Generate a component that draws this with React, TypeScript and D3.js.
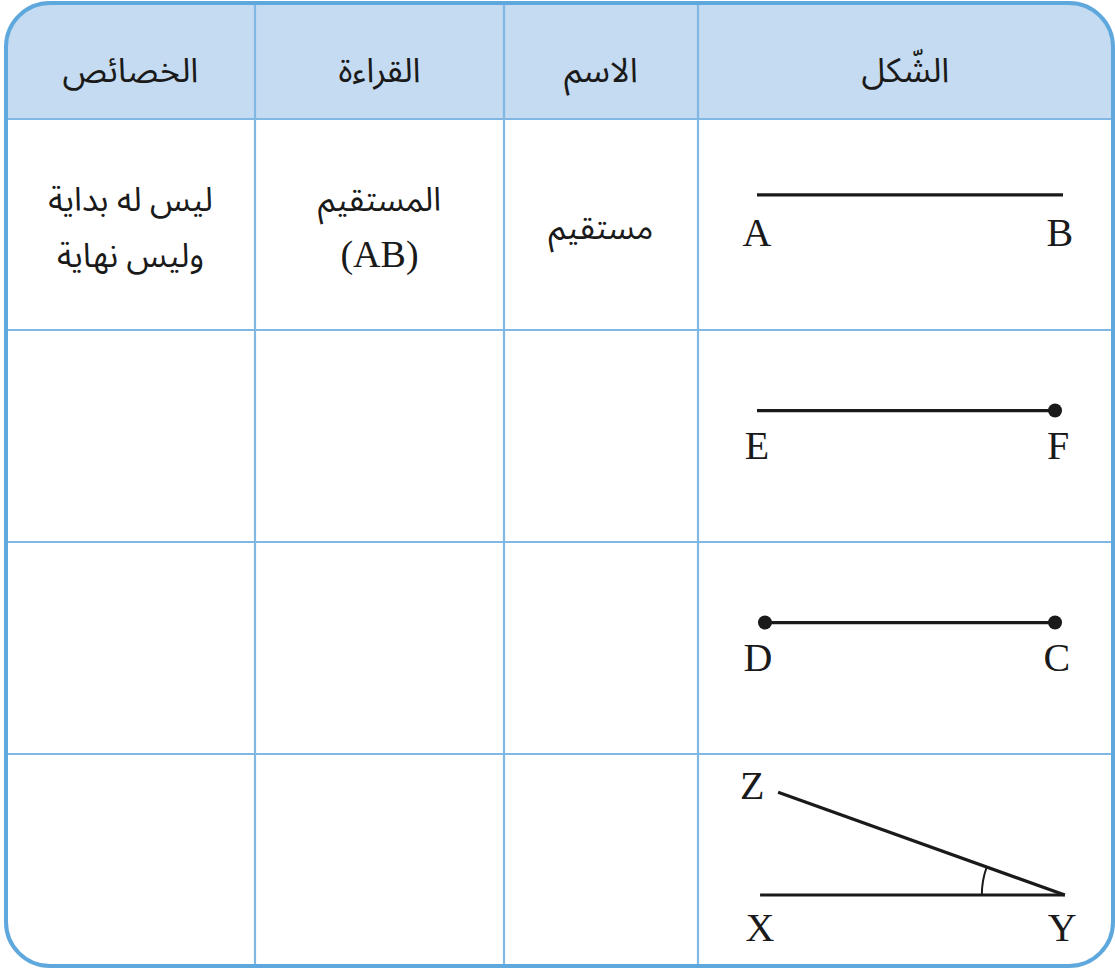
import React from "react";
import * as d3 from "d3";

// table layout (column edges right-to-left reading, drawn left-to-right)
const colEdges = [6, 255, 504, 698, 1113];
const rowEdges = [3, 119, 330, 542, 754, 966];

// header labels, left to right
const headers = ["الخصائص", "القراءة", "الاسم", "الشّكل"];

// first row filled in, others empty
const propertiesText = [["ليس له بداية", "وليس نهاية"], [], [], []];
const readingText = [["المستقيم", "(AB)"], [], [], []];
const nameText = [["مستقيم"], [], [], []];

// figures drawn in a 0..100 local space per row
const segments = [
  [{ x1: 0, y1: 36, x2: 100, y2: 36 }],
  [{ x1: 0, y1: 38, x2: 97.4, y2: 38 }],
  [{ x1: 2.6, y1: 38, x2: 97.4, y2: 38 }],
  [
    { x1: 1, y1: 66.5, x2: 100.6, y2: 66.5 },
    { x1: 6.9, y1: 18, x2: 100.6, y2: 66.5 },
  ],
];
const dots = [[], [{ x: 97.4, y: 38 }], [{ x: 2.6, y: 38 }, { x: 97.4, y: 38 }], []];
const letters = [
  [{ t: "A", x: 0, y: 60 }, { t: "B", x: 99, y: 60 }],
  [{ t: "E", x: 0, y: 61 }, { t: "F", x: 98.4, y: 61 }],
  [{ t: "D", x: 0.3, y: 61 }, { t: "C", x: 98, y: 61 }],
  [
    { t: "Z", x: -1.6, y: 21 },
    { t: "X", x: 1, y: 88 },
    { t: "Y", x: 99.7, y: 88 },
  ],
];

const W = 1115;
const H = 970;
const borderColor = "#5ea8dd";
const gridColor = "#80b8e3";
const headFill = "#c5dbf1";
const arabicFont = "'Noto Sans Arabic', 'DejaVu Sans', sans-serif";
const latinFont = "'Liberation Serif', 'DejaVu Serif', serif";

const App = () => {
  const x0 = colEdges[0];
  const x1 = colEdges[colEdges.length - 1];
  const y0 = rowEdges[0];
  const y1 = rowEdges[rowEdges.length - 1];
  const r = 44;

  const fx = d3.scaleLinear().domain([0, 100]).range([757, 1063]);

  const outline = d3.path();
  outline.moveTo(x0 + r, y0);
  outline.lineTo(x1 - r, y0);
  outline.arcTo(x1, y0, x1, y0 + r, r);
  outline.lineTo(x1, y1 - r);
  outline.arcTo(x1, y1, x1 - r, y1, r);
  outline.lineTo(x0 + r, y1);
  outline.arcTo(x0, y1, x0, y1 - r, r);
  outline.lineTo(x0, y0 + r);
  outline.arcTo(x0, y0, x0 + r, y0, r);
  outline.closePath();

  const head = d3.path();
  head.moveTo(x0, rowEdges[1]);
  head.lineTo(x0, y0 + r);
  head.arcTo(x0, y0, x0 + r, y0, r);
  head.lineTo(x1 - r, y0);
  head.arcTo(x1, y0, x1, y0 + r, r);
  head.lineTo(x1, rowEdges[1]);
  head.closePath();

  const colMid = (i: number) => (colEdges[i] + colEdges[i + 1]) / 2;

  const textCols = [propertiesText, readingText, nameText];

  return (
    <svg width={W} height={H} style={{ position: "absolute", left: 0, top: 0 }}>
      <path d={outline.toString()} fill="#fff" />
      <path d={head.toString()} fill={headFill} />
      {colEdges.slice(1, -1).map((cx, i) => (
        <line key={"c" + i} x1={cx} x2={cx} y1={y0} y2={y1} stroke={gridColor} strokeWidth={2.2} />
      ))}
      {rowEdges.slice(1, -1).map((ry, i) => (
        <line key={"r" + i} x1={x0} x2={x1} y1={ry} y2={ry} stroke={gridColor} strokeWidth={2.2} />
      ))}
      <path d={outline.toString()} fill="none" stroke={borderColor} strokeWidth={4} />

      {headers.map((h, i) => (
        <text key={"h" + i} x={colMid(i)} y={82} textAnchor="middle" fontFamily={arabicFont}
          fontSize={34} fill="#1a1a1a" direction="rtl">
          {h}
        </text>
      ))}

      {textCols.map((col, ci) =>
        col.map((lines, ri) => {
          if (!lines.length) return null;
          const top = rowEdges[ri + 1];
          const bot = rowEdges[ri + 2];
          const mid = (top + bot) / 2;
          const lh = 56;
          const start = mid - ((lines.length - 1) * lh) / 2 + 14;
          // one text element per cell, lines wrapped as tspans
          return (
            <text key={`t${ci}-${ri}`} textAnchor="middle" fill="#1a1a1a">
              {lines.map((ln, li) => (
                <tspan key={li} x={colMid(ci)} y={start + li * lh}
                  fontFamily={/[A-Z]/.test(ln) ? latinFont : arabicFont}
                  fontSize={/[A-Z]/.test(ln) ? 38 : 33}>
                  {ln}
                </tspan>
              ))}
            </text>
          );
        })
      )}

      {segments.map((segs, ri) => {
        const fy = d3.scaleLinear().domain([0, 100]).range([rowEdges[ri + 1], rowEdges[ri + 2]]);
        return (
          <g key={"f" + ri}>
            {segs.map((s, si) => (
              <line key={si} x1={fx(s.x1)} y1={fy(s.y1)} x2={fx(s.x2)} y2={fy(s.y2)}
                stroke="#1a1a1a" strokeWidth={3.2} />
            ))}
            {dots[ri].map((p, pi) => (
              <circle key={"d" + pi} cx={fx(p.x)} cy={fy(p.y)} r={7} fill="#1a1a1a" />
            ))}
            {letters[ri].map((l, li) => (
              <text key={"l" + li} x={fx(l.x)} y={fy(l.y)} textAnchor="middle" fontFamily={latinFont}
                fontSize={40} fill="#1a1a1a">
                {l.t}
              </text>
            ))}
            {segs.length > 1 && (() => {
              // angle mark at the shared vertex
              const a = segs[0];
              const b = segs[1];
              const vx = fx(a.x2);
              const vy = fy(a.y2);
              const ang = Math.atan2(fy(b.y1) - vy, fx(b.x1) - vx);
              const rad = 83;
              const arc = d3.path();
              arc.arc(vx, vy, rad, ang, -Math.PI, true);
              return <path d={arc.toString()} fill="none" stroke="#1a1a1a" strokeWidth={2} />;
            })()}
          </g>
        );
      })}
    </svg>
  );
};

export default App;
